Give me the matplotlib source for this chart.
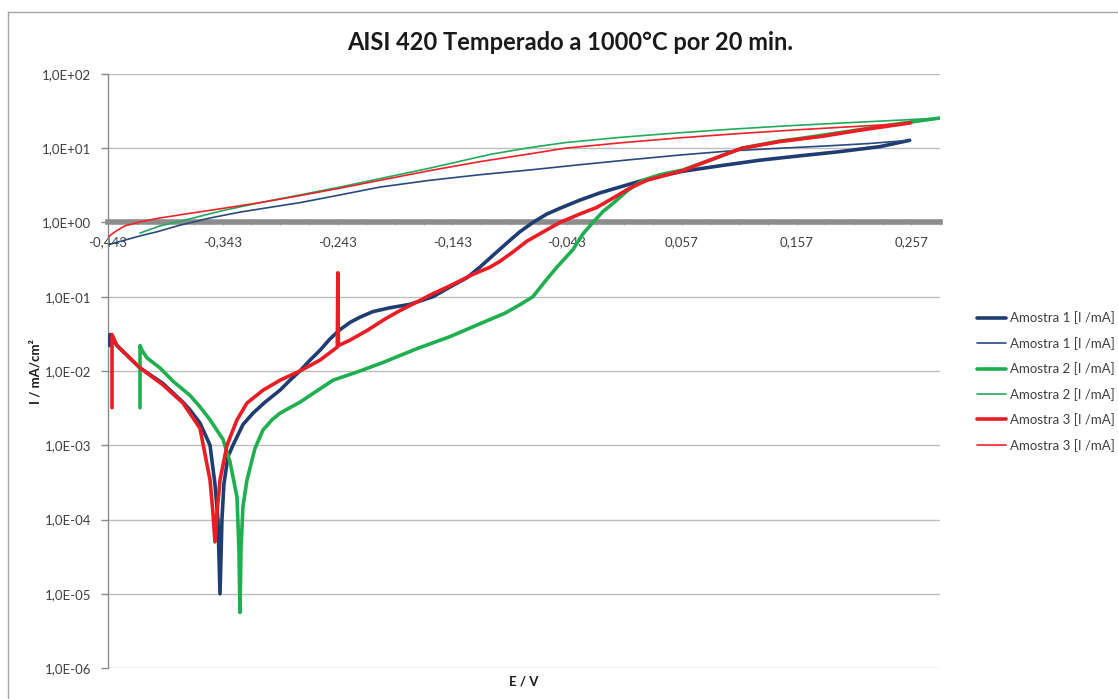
import matplotlib
matplotlib.use("Agg")
import matplotlib.pyplot as plt
from matplotlib.ticker import FixedLocator, FuncFormatter
from matplotlib.lines import Line2D
import numpy as np

plt.rcParams['font.family'] = ['Lato', 'DejaVu Sans']

title = "AISI 420 Temperado a 1000°C por 20 min."
xlabel = "E / V"
ylabel = "I / mA/cm²"
labels = ["Amostra 1 [I /mA]", "Amostra 1 [I /mA]",
          "Amostra 2 [I /mA]", "Amostra 2 [I /mA]",
          "Amostra 3 [I /mA]", "Amostra 3 [I /mA]"]

# Potential (V) and current density (mA/cm²) for each scan
e1_fwd = [-0.4413, -0.4413, -0.4352, -0.4151, -0.3951, -0.3777, -0.3716, -0.3629, -0.3541, -0.3498,
          -0.3472, -0.3454, -0.3437, -0.3420, -0.3385, -0.3341, -0.3254, -0.3167, -0.3062, -0.2932,
          -0.2845, -0.2758, -0.2670, -0.2583, -0.2496, -0.2409, -0.2322, -0.2235, -0.2122, -0.1974,
          -0.1799, -0.1599, -0.1451, -0.1303, -0.1190, -0.1076, -0.0954, -0.0841, -0.0728, -0.0606,
          -0.0493, -0.0319, -0.0145, 0.0029, 0.0204, 0.0378, 0.0579, 0.0901, 0.1249, 0.1598,
          0.1946, 0.2295, 0.2556]
i1_fwd = [0.022, 0.031, 0.022, 0.011, 0.0068, 0.0038, 0.003, 0.002, 0.001, 0.0003,
          0.0001, 0.00001, 0.0001, 0.0003, 0.0007, 0.001, 0.0019, 0.0027, 0.0038, 0.0055,
          0.0075, 0.010, 0.014, 0.019, 0.027, 0.036, 0.045, 0.053, 0.063, 0.071,
          0.079, 0.10, 0.135, 0.18, 0.25, 0.36, 0.53, 0.75, 1.0, 1.3,
          1.55, 2.0, 2.5, 3.0, 3.6, 4.2, 4.9, 5.8, 6.9, 7.9,
          9.0, 10.5, 12.8]

e1_rev = [-0.4430, -0.4282, -0.4151, -0.4003, -0.3803, -0.3541, -0.3280, -0.3019, -0.2758, -0.2409,
          -0.2061, -0.1625, -0.1190, -0.0754, -0.0319, 0.0117, 0.0553, 0.0988, 0.1424, 0.1859,
          0.2208, 0.2556]
i1_rev = [0.50, 0.58, 0.66, 0.75, 0.92, 1.15, 1.38, 1.60, 1.85, 2.35,
          3.00, 3.70, 4.40, 5.10, 6.00, 7.00, 8.10, 9.20, 10.0, 10.8,
          11.6, 12.8]

e2_fwd = [-0.4151, -0.4151, -0.4134, -0.4090, -0.3977, -0.3864, -0.3716, -0.3629, -0.3541, -0.3428,
          -0.3367, -0.3306, -0.3289, -0.3280, -0.3271, -0.3254, -0.3219, -0.3150, -0.3080, -0.3001,
          -0.2932, -0.2758, -0.2470, -0.2235, -0.2035, -0.1738, -0.1451, -0.1163, -0.0972, -0.0841,
          -0.0728, -0.0623, -0.0519, -0.0379, -0.0292, -0.0205, -0.0118, -0.0031, 0.0099, 0.0230,
          0.0378, 0.0579, 0.0814, 0.1093, 0.1424, 0.1598, 0.2034, 0.2469, 0.2817]
i2_fwd = [0.0032, 0.022, 0.019, 0.015, 0.011, 0.0073, 0.0047, 0.0033, 0.0022, 0.0012,
          0.0006, 0.0002, 0.00004, 0.0000056, 0.00004, 0.00015, 0.00034, 0.0009, 0.0016, 0.0022,
          0.0027, 0.0038, 0.0075, 0.0100, 0.013, 0.020, 0.029, 0.045, 0.060, 0.078,
          0.10, 0.16, 0.25, 0.43, 0.70, 1.0, 1.4, 1.8, 2.7, 3.7,
          4.4, 5.1, 6.9, 10.0, 12.5, 13.5, 17.0, 21.5, 25.5]

e2_rev = [-0.4151, -0.3977, -0.3716, -0.3428, -0.3106, -0.2758, -0.2409, -0.2061, -0.1625, -0.1094,
          -0.0754, -0.0449, 0.0029, 0.0509, 0.0988, 0.1476, 0.1946, 0.2443, 0.2817]
i2_rev = [0.72, 0.90, 1.12, 1.45, 1.85, 2.35, 3.00, 3.90, 5.40, 8.30,
          10.2, 11.9, 14.0, 16.0, 18.0, 20.0, 21.8, 23.8, 25.5]

e3_fwd = [-0.4395, -0.4395, -0.4352, -0.4151, -0.3951, -0.3777, -0.3629, -0.3541, -0.3515, -0.3498,
          -0.3481, -0.3454, -0.3393, -0.3306, -0.3219, -0.3080, -0.2932, -0.2758, -0.2583, -0.2432,
          -0.2427, -0.2422, -0.2322, -0.2174, -0.2017, -0.1887, -0.1738, -0.1599, -0.1451, -0.1251,
          -0.1102, -0.1015, -0.0902, -0.0780, -0.0623, -0.0493, -0.0319, -0.0170, -0.0014, 0.0117,
          0.0265, 0.0579, 0.0814, 0.1093, 0.1424, 0.1798, 0.2121, 0.2565]
i3_fwd = [0.0032, 0.031, 0.022, 0.011, 0.0065, 0.0037, 0.0017, 0.00034, 0.00012, 0.00005,
          0.00012, 0.00034, 0.001, 0.0022, 0.0037, 0.0055, 0.0075, 0.010, 0.014, 0.021,
          0.21, 0.022, 0.026, 0.035, 0.050, 0.065, 0.085, 0.11, 0.14, 0.20,
          0.25, 0.30, 0.40, 0.56, 0.77, 1.0, 1.3, 1.6, 2.2, 2.9,
          3.7, 5.0, 6.9, 10.0, 12.3, 14.5, 17.5, 22.0]

e3_rev = [-0.4430, -0.4352, -0.4282, -0.4151, -0.3977, -0.3716, -0.3428, -0.3106, -0.2758, -0.2409,
          -0.2061, -0.1625, -0.1190, -0.0754, -0.0449, 0.0029, 0.0553, 0.1075, 0.1598, 0.2121,
          0.2565]
i3_rev = [0.64, 0.78, 0.90, 1.02, 1.15, 1.33, 1.55, 1.85, 2.30, 2.90,
          3.70, 5.00, 6.60, 8.40, 10.0, 11.8, 13.8, 15.8, 17.8, 19.8,
          21.8]

x_ticks = [-0.443, -0.343, -0.243, -0.143, -0.043, 0.057, 0.157, 0.257]
y_exponents = [-6, -5, -4, -3, -2, -1, 0, 1, 2]

series = [
    (e1_fwd, i1_fwd, '#1F3D72', 2.6),
    (e1_rev, i1_rev, '#2A4A7E', 1.2),
    (e2_fwd, i2_fwd, '#1EAF4E', 2.6),
    (e2_rev, i2_rev, '#22AA5C', 1.2),
    (e3_fwd, i3_fwd, '#EC1C24', 2.6),
    (e3_rev, i3_rev, '#EE2229', 1.2),
]

W, H = 1118, 699
fig = plt.figure(figsize=(W / 100, H / 100), dpi=100)
fig.patch.set_facecolor('white')

# outer chart frame (left and top edges)
frame_col = '#A6A6A6'
fig.add_artist(Line2D([8 / W, 8 / W], [0, 1 - 12 / H], color=frame_col, lw=1.0))
fig.add_artist(Line2D([8 / W, 1], [1 - 12 / H, 1 - 12 / H], color=frame_col, lw=1.0))

ax = fig.add_axes([108 / W, 1 - 668 / H, (940 - 108) / W, (668 - 74) / H])
ax.set_yscale('log')
ax.set_xlim(-0.443, 0.282)
ax.set_ylim(1e-6, 1e2)

for (e, i, c, lw), lab in zip(series, labels):
    ax.plot(e, i, color=c, lw=lw, label=lab, solid_joinstyle='round',
            solid_capstyle='round', zorder=3)

# decade gridlines
yt = [10.0 ** k for k in y_exponents]
ax.yaxis.set_major_locator(FixedLocator(yt))
ax.yaxis.set_minor_locator(FixedLocator([]))
ax.yaxis.set_major_formatter(FuncFormatter(lambda v, p: '1,0E' + f'{int(round(np.log10(v))):+03d}'))
ax.grid(axis='y', color='#BDBDBD', lw=1.0, zorder=0)
ax.set_axisbelow(True)

ax.spines['top'].set_visible(False)
ax.spines['right'].set_visible(False)
ax.spines['left'].set_color('#8C8C8C')
ax.spines['left'].set_linewidth(1.0)
ax.spines['bottom'].set_position(('data', 1.0))
ax.spines['bottom'].set_color('#8C8C8C')
ax.spines['bottom'].set_linewidth(4.0)
ax.spines['bottom'].set_zorder(2)

ax.xaxis.set_major_locator(FixedLocator(x_ticks))
ax.xaxis.set_minor_locator(FixedLocator([-0.443 + 0.025 * k for k in range(30)]))
ax.xaxis.set_major_formatter(FuncFormatter(lambda v, p: f'{v:.3f}'.replace('.', ',')))
ax.tick_params(axis='x', which='both', direction='inout', length=5, width=0.8,
               color='#B0B0B0', pad=7, labelsize=9.5, labelcolor='#404040')
ax.tick_params(axis='y', which='major', direction='out', length=5, width=1.0,
               color='#8C8C8C', pad=7, labelsize=9.5, labelcolor='#404040')

fig.text(570 / W, 1 - 42 / H, title, ha='center', va='center', fontsize=17,
         fontweight='bold', color='#1A1A1A')
fig.text(524 / W, 1 - 682 / H, xlabel, ha='center', va='center', fontsize=9.5,
         fontweight='bold', color='#1A1A1A')
fig.text(35 / W, 1 - 371 / H, ylabel, ha='center', va='center', rotation=90,
         fontsize=9.5, fontweight='bold', color='#1A1A1A')

handles, labs = ax.get_legend_handles_labels()
fig.legend(handles, labs, loc='upper left', bbox_to_anchor=(972 / W, 1 - 306 / H),
           frameon=False, fontsize=9.5, handlelength=2.2, handletextpad=0.25,
           labelspacing=0.95, borderaxespad=0, labelcolor='#404040')

fig.savefig('out.png', dpi=100, facecolor='white')
